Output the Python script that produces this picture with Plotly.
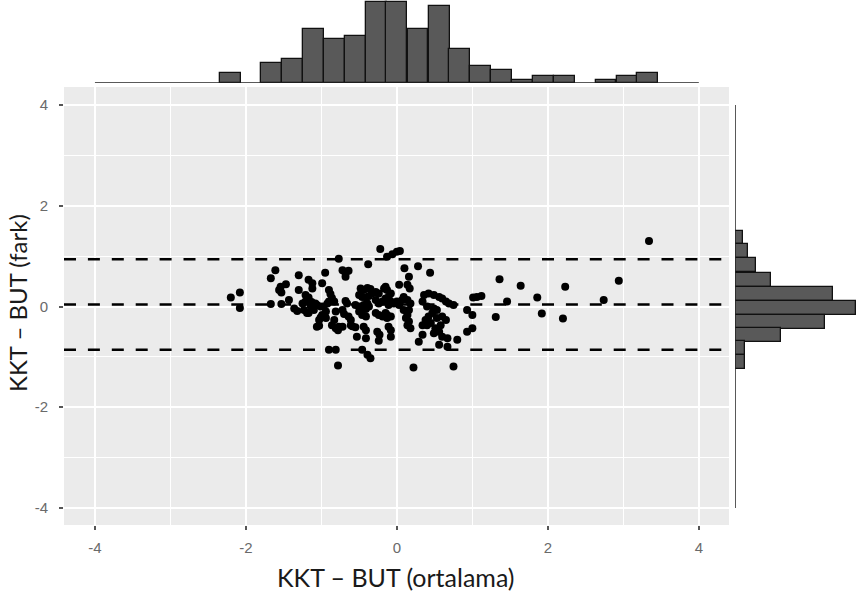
import plotly.graph_objects as go

# ---- scatter data (mean vs difference) ----
mean_x = [
    -2.20, -2.08, -2.08,
    -1.67, -1.61, -1.67, -1.54, -1.56, -1.47, -1.53, -1.53, -1.43,
    -1.30, -1.30, -1.36, -1.32, -1.25, -1.21, -1.17, -1.17, -1.12, -1.21, -1.17, -1.23, -1.19, -1.08, -1.06, -1.12,
    -1.03, -0.99, -0.94, -0.97, -0.95, -0.99, -0.90, -0.88, -0.86, -0.90, -0.83, -0.94, -0.81, -0.83, -0.86, -0.81, -0.78,
    -0.77, -0.81, -0.78,
    -0.72, -0.68, -0.64, -0.68, -0.72, -0.70, -0.68, -0.64, -0.61, -0.77, -0.72, -0.59, -0.55, -0.53, -0.41, -0.44, -0.41, -0.38, -0.46, -0.39, -0.35,
    -0.22, -0.13, -0.06, 0.00,
    -0.48, -0.44, -0.39, -0.35, -0.33, -0.37, -0.41, -0.46, -0.50,
    -0.28, -0.24, -0.17, -0.13, -0.15, -0.19, -0.24, -0.28, -0.13, -0.11,
    -1.13, -1.06, -1.01, -1.14, -1.10, -1.17,
    -0.92, -1.01,
    -0.66, -0.55, -0.50, -0.44, -0.39, -0.37, -0.41,
    -0.50, -0.46, -0.41,
    -0.28, -0.24, -0.19, -0.15, -0.13,
    -1.03, -0.61,
    -0.26, -0.23, -0.24,
    -0.90,
    0.04, 0.10, 0.16, 0.28, 0.44, 0.03, 0.14, 0.17, -0.15, -0.08, -0.11,
    0.09, 0.07, 0.00, -0.04, -0.08, 0.14, 0.18, 0.03,
    0.09, 0.16, 0.14, -0.13, -0.08, 0.12, 0.16,
    -0.11, -0.08, 0.14, 0.18, -0.08,
    0.36, 0.42, 0.49, 0.56, 0.60, 0.65, 0.69, 0.75, 0.34, 0.40, 0.49, 0.53, 0.47, 0.42, 0.38, 0.34, 0.40, 0.45,
    0.53, 0.60, 0.65, 0.58, 0.51, 0.56, 0.49, 0.60, 0.34, 0.29, 0.67, 0.80, 0.56, 0.67,
    0.22, 0.75,
    0.93, 1.00, 0.93, 1.00, 1.01, 1.06, 1.12, 1.36, 1.46, 1.31, 1.64, 1.86, 1.92, 2.23, 2.20, 2.74, 2.94, 3.34,
]
diff_y = [
    0.18, 0.28, -0.03,
    0.05, 0.72, 0.56, 0.39, 0.33, 0.44, 0.28, 0.05, 0.13,
    0.62, 0.33, -0.04, -0.09, 0.06, 0.10, 0.13, 0.53, 0.46, 0.23, 0.18, -0.07, -0.13, 0.06, -0.40, 0.36,
    -0.27, -0.17, -0.10, 0.00, 0.67, 0.46, 0.33, 0.25, 0.17, 0.10, 0.10, -0.23, -0.10, -0.27, -0.37, -0.43, -0.47,
    0.95, -0.86, -1.17,
    0.72, 0.66, 0.71, 0.59, -0.07, -0.15, 0.11, -0.20, -0.27, -0.40, -0.40, -0.39, -0.41, -0.60, -0.63, -0.40, -0.47, 0.84, -0.86, -0.96, -1.03,
    1.14, 0.99, 1.04, 1.09,
    0.36, 0.33, 0.37, 0.35, 0.26, 0.21, 0.18, 0.19, 0.23,
    0.29, 0.26, 0.36, 0.33, 0.16, 0.10, 0.06, 0.13, 0.13, 0.03,
    0.09, 0.03, 0.00, 0.00, -0.07, -0.13,
    0.06, -0.22,
    0.06, 0.03, 0.00, 0.03, 0.06, 0.00, -0.05,
    -0.10, -0.17, -0.20,
    -0.13, -0.17, -0.20, -0.13, -0.23,
    -0.38, -0.37,
    -0.50, -0.56, -0.68,
    -0.86,
    1.10, 0.76, 0.59, 0.80, 0.67, 0.43, 0.43, 0.36, 0.39, 0.26, 0.19,
    0.19, 0.13, 0.10, 0.06, 0.10, 0.13, 0.06, 0.03,
    -0.07, -0.07, -0.17, -0.17, -0.20, -0.23, -0.30,
    -0.40, -0.47, -0.37, -0.43, -0.60,
    0.23, 0.26, 0.23, 0.19, 0.16, 0.10, 0.06, 0.03, 0.10, 0.00, -0.04, -0.07, -0.13, -0.20, -0.27, -0.37, -0.37, -0.33,
    -0.23, -0.20, -0.27, -0.37, -0.43, -0.50, -0.53, -0.60, -0.56, -0.70, -0.63, -0.66, -0.76, -0.80,
    -1.21, -1.19,
    -0.50, -0.43, -0.07, -0.17, 0.18, 0.19, 0.21, 0.54, 0.10, -0.21, 0.41, 0.18, -0.14, 0.39, -0.24, 0.13, 0.51, 1.30,
]

# ---- agreement lines ----
bias = 0.04
loa_upper = 0.94
loa_lower = -0.86

# ---- marginal histogram (top, x = mean) ----
top_bin_centers = [-2.21, -1.93, -1.66, -1.38, -1.10, -0.83, -0.55, -0.27, 0.00, 0.28, 0.56,
                   0.83, 1.11, 1.39, 1.66, 1.94, 2.22, 2.49, 2.77, 3.05, 3.32]
top_counts = [3, 0, 6, 7, 16, 13, 14, 24, 24, 16, 23, 10, 5, 4, 1, 2, 2, 0, 1, 2, 3]
top_bin_width = 0.2765

# ---- marginal histogram (right, y = difference) ----
right_bin_centers = [1.37, 1.10, 0.82, 0.53, 0.25, -0.03, -0.30, -0.57, -0.83, -1.10]
right_counts = [3, 5, 8, 14, 38, 47, 35, 18, 4, 4]
right_bin_width = 0.274

x_ticks = [-4, -2, 0, 2, 4]
y_ticks = [-4, -2, 0, 2, 4]

W, H = 857, 593
px = lambda v: v / W
py = lambda v: (H - v) / H

fig = go.Figure()

fig.add_trace(go.Scatter(
    x=mean_x, y=diff_y, mode="markers",
    marker=dict(color="black", size=8),
    xaxis="x", yaxis="y", showlegend=False, hoverinfo="x+y",
))

tc = [c for c, n in zip(top_bin_centers, top_counts) if n > 0]
tn = [n for n in top_counts if n > 0]
fig.add_trace(go.Bar(
    x=tc, y=tn, width=top_bin_width,
    marker=dict(color="#595959", line=dict(color="#111111", width=1.3)),
    xaxis="x2", yaxis="y2", showlegend=False,
))

rc = [c for c, n in zip(right_bin_centers, right_counts) if n > 0]
rn = [n for n in right_counts if n > 0]
fig.add_trace(go.Bar(
    y=rc, x=rn, width=right_bin_width, orientation="h",
    marker=dict(color="#595959", line=dict(color="#111111", width=1.3)),
    xaxis="x3", yaxis="y3", showlegend=False,
))

main_xdom = [px(64), px(729)]
main_ydom = [py(525), py(87)]

shapes = [
    dict(type="rect", xref="x domain", yref="y domain", x0=0, x1=1, y0=0, y1=1,
         fillcolor="#EBEBEB", line=dict(width=0), layer="below"),
]
for v in (loa_upper, bias, loa_lower):
    shapes.append(dict(type="line", xref="x domain", yref="y", x0=0, x1=1, y0=v, y1=v,
                       line=dict(color="black", width=2.6, dash="12px,11.9px"), layer="above"))
shapes.append(dict(type="line", xref="x2", yref="y2", x0=-4, x1=4, y0=0, y1=0,
                   line=dict(color="#222222", width=1.5)))
shapes.append(dict(type="line", xref="x3", yref="y3", x0=0, x1=0, y0=-4, y1=4,
                   line=dict(color="#222222", width=1.5)))

tickfont = dict(family="Liberation Sans, Arial, sans-serif", size=15, color="#6a6a6a")

fig.update_layout(
    template="none",
    width=W, height=H,
    margin=dict(l=0, r=0, t=0, b=0),
    paper_bgcolor="white", plot_bgcolor="rgba(0,0,0,0)",
    bargap=0,
    shapes=shapes,
    xaxis=dict(domain=main_xdom, range=[-4.41, 4.40], anchor="y",
               tickmode="array", tickvals=x_ticks, ticktext=[str(t) for t in x_ticks],
               ticks="outside", ticklen=4, tickwidth=1.5, tickcolor="#555555",
               tickfont=tickfont, ticklabelstandoff=5,
               showgrid=True, gridcolor="white", gridwidth=2,
               minor=dict(tickvals=[-3, -1, 1, 3], showgrid=True, gridcolor="white", gridwidth=1, ticks=""),
               zeroline=False, showline=False),
    yaxis=dict(domain=main_ydom, range=[-4.34, 4.36], anchor="x",
               tickmode="array", tickvals=y_ticks, ticktext=[str(t) for t in y_ticks],
               ticks="outside", ticklen=4, tickwidth=1.5, tickcolor="#555555",
               tickfont=tickfont, ticklabelstandoff=8,
               showgrid=True, gridcolor="white", gridwidth=2,
               minor=dict(tickvals=[-3, -1, 1, 3], showgrid=True, gridcolor="white", gridwidth=1, ticks=""),
               zeroline=False, showline=False),
    xaxis2=dict(domain=main_xdom, range=[-4.41, 4.40], anchor="y2", visible=False),
    yaxis2=dict(domain=[py(83), 1.0], range=[0, 24.7], anchor="x2", visible=False),
    xaxis3=dict(domain=[px(735), 1.0], range=[0, 47.4], anchor="y3", visible=False),
    yaxis3=dict(domain=main_ydom, range=[-4.34, 4.36], anchor="x3", visible=False),
    annotations=[
        dict(text="KKT – BUT (ortalama)", xref="paper", yref="paper",
             x=px(396), y=py(577), xanchor="center", yanchor="middle", showarrow=False,
             font=dict(family="Lato, sans-serif", size=25, color="#1a1a1a")),
        dict(text="KKT – BUT (fark)", xref="paper", yref="paper", textangle=-90,
             x=px(18), y=py(303), xanchor="center", yanchor="middle", showarrow=False,
             font=dict(family="Lato, sans-serif", size=24, color="#1a1a1a")),
    ],
)

fig.write_html("out.html", config={"displayModeBar": False},
               post_script="document.body.style.margin='0px';")
